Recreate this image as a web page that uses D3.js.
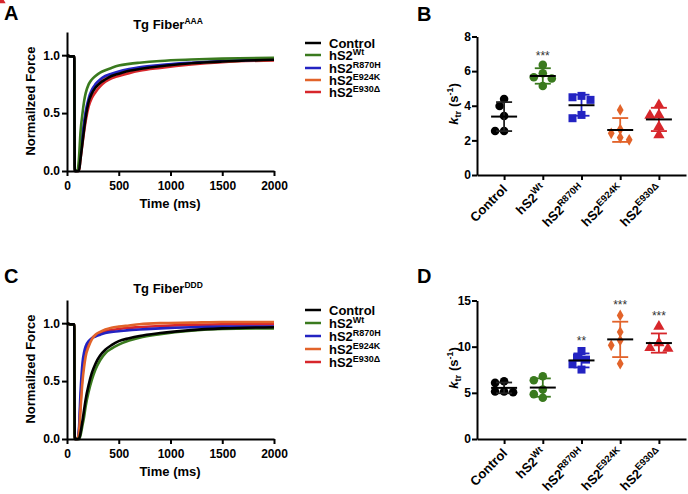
<!DOCTYPE html>
<html><head><meta charset="utf-8">
<script src="https://cdn.jsdelivr.net/npm/d3@7"></script>
<style>body{margin:0;background:#fff}svg{font-family:"Liberation Sans",Arial,sans-serif;font-weight:bold}</style>
</head><body><svg width="688" height="494"></svg>
<script>
// ---------- DATA ----------
const seriesNames = ["Control", "hS2Wt", "hS2R870H", "hS2E924K", "hS2E930Δ"];
const seriesBase = ["Control", "hS2", "hS2", "hS2", "hS2"];
const seriesSup = ["", "Wt", "R870H", "E924K", "E930Δ"];
const seriesColors = ["#000000", "#3a7a1e", "#2323c2", "#e2632a", "#d7262b"];

const timeMs = [0,30,70,75,100,115,130,150,165,180,210,240,275,320,370,430,500,600,700,900,1200,1500,2000];
const timeTicks = [0,500,1000,1500,2000];
const forceTicks = [0,0.5,1.0];

const A_control = [1.0,0.99,0.99,0.0,0.0, 0.0,0.10,0.25,0.36,0.46,0.60,0.67,0.72,0.76,0.79,0.82,0.84,0.865,0.88,0.905,0.93,0.945,0.96];
const A_wt      = [1.0,0.99,0.99,0.0,0.0, 0.10,0.33,0.50,0.60,0.67,0.75,0.79,0.82,0.85,0.87,0.89,0.91,0.925,0.935,0.95,0.962,0.97,0.978];
const A_r870h   = [1.0,0.99,0.99,0.0,0.0, 0.03,0.16,0.32,0.42,0.51,0.63,0.70,0.75,0.79,0.82,0.84,0.86,0.88,0.895,0.915,0.935,0.95,0.962];
const A_e924k   = [1.0,0.99,0.99,0.0,0.0, 0.02,0.14,0.30,0.40,0.49,0.61,0.68,0.73,0.775,0.805,0.83,0.85,0.87,0.885,0.91,0.93,0.945,0.96];
const A_e930d   = [1.0,0.99,0.99,0.0,0.0, 0.0,0.10,0.24,0.34,0.43,0.56,0.63,0.68,0.73,0.77,0.80,0.82,0.845,0.865,0.89,0.92,0.94,0.955];

const C_control = [1.0,0.99,0.99,0.0,0.0, 0.0,0.05,0.16,0.25,0.34,0.47,0.57,0.65,0.72,0.77,0.81,0.845,0.87,0.89,0.915,0.94,0.955,0.965];
const C_wt      = [1.0,0.99,0.99,0.0,0.0, 0.0,0.03,0.12,0.19,0.28,0.41,0.51,0.60,0.68,0.74,0.78,0.815,0.85,0.875,0.905,0.935,0.95,0.955];
const C_r870h   = [1.0,0.99,0.99,0.0,0.0, 0.08,0.39,0.66,0.75,0.80,0.845,0.87,0.885,0.90,0.915,0.925,0.93,0.94,0.945,0.955,0.965,0.97,0.97];
const C_e924k   = [1.0,0.99,0.99,0.0,0.0, 0.05,0.25,0.50,0.62,0.71,0.80,0.86,0.90,0.925,0.945,0.96,0.97,0.98,0.99,1.0,1.005,1.01,1.01];
const C_e930d   = [1.0,0.99,0.99,0.0,0.0, 0.06,0.30,0.56,0.68,0.76,0.83,0.87,0.895,0.915,0.93,0.94,0.95,0.96,0.965,0.975,0.985,0.99,0.99];

const B_control = [4.39,3.99,3.41,2.54,2.54];
const B_wt      = [6.36,5.88,5.57,5.65,5.14];
const B_r870h   = [4.49,4.34,4.57,3.47,3.28];
const B_e924k   = [3.76,2.64,2.41,2.16,2.03];
const B_e930d   = [4.05,3.43,3.47,2.79,2.31];
const B_stars   = ["","***","","",""];
const B_ticks   = [0,2,4,6,8];

const D_control = [6.26,6.08,5.14,5.07,5.14];
const D_wt      = [6.80,6.37,5.36,4.86,4.46];
const D_r870h   = [9.53,8.81,8.60,8.09,7.52];
const D_e924k   = [13.38,11.58,10.68,10.14,8.16];
const D_e930d   = [12.19,10.39,9.89,9.68,9.80];
const D_stars   = ["","","**","***","***"];
const D_ticks   = [0,5,10,15];

// ---------- DRAWING ----------
const svg = d3.select("svg");
const symbols = [d3.symbolCircle, d3.symbolCircle, d3.symbolSquare, d3.symbolDiamond, d3.symbolTriangle];
const symSizes = [58, 58, 64, 40, 55];

function styleAxis(g){
  g.select(".domain").attr("stroke","#000").attr("stroke-width",2);
  g.selectAll(".tick line").attr("stroke","#000").attr("stroke-width",2);
  g.selectAll(".tick text").attr("font-size",12).attr("font-weight","bold").attr("fill","#000")
   .attr("font-family",'"Liberation Sans",Arial,sans-serif');
}

function supText(parent, x, y, base, sup, size, supSize, anchor){
  const t = parent.append("text").attr("x",x).attr("y",y).attr("font-size",size).attr("text-anchor",anchor||"start");
  t.append("tspan").text(base);
  if (sup) t.append("tspan").attr("font-size",supSize).attr("dy",-size*0.4).text(sup);
  return t;
}

function tracePanel(o){
  const x = d3.scaleLinear([0,2000],[67,274]);
  const y = d3.scaleLinear([0,1.2],[o.y0, o.y0-139]);
  const line = d3.line().x((d,i)=>x(timeMs[i])).y(d=>y(d)).curve(d3.curveMonotoneX);
  o.order.forEach(k=>{
    svg.append("path").attr("d",line(o.series[k])).attr("fill","none")
      .attr("stroke",seriesColors[k]).attr("stroke-width",2.6).attr("stroke-linejoin","round");
  });
  const gx = svg.append("g").attr("transform",`translate(0,${o.y0})`)
    .call(d3.axisBottom(x).tickValues(timeTicks).tickFormat(d3.format("d")).tickSize(5).tickPadding(5).tickSizeOuter(0));
  styleAxis(gx);
  const gy = svg.append("g").attr("transform",`translate(67,0)`)
    .call(d3.axisLeft(y).tickValues(forceTicks).tickFormat(d3.format(".1f")).tickSize(5).tickPadding(2).tickSizeOuter(0));
  styleAxis(gy);
  svg.append("text").attr("x",170).attr("y",o.y0+37).attr("text-anchor","middle").attr("font-size",13).text("Time (ms)");
  svg.append("text").attr("transform",`translate(35,${o.y0-70}) rotate(-90)`).attr("text-anchor","middle")
    .attr("font-size",13).text("Normailzed Force");
  supText(svg, 168, o.titleY, "Tg Fiber", o.titleSup, 13, 8.5, "middle");
  svg.append("text").attr("x",4).attr("y",o.letterY).attr("font-size",20).text(o.letter);
  // legend
  o.legendY.forEach((ly,i)=>{
    svg.append("line").attr("x1",305).attr("x2",321).attr("y1",ly).attr("y2",ly)
      .attr("stroke",seriesColors[i]).attr("stroke-width",2.5);
    supText(svg, 329, ly+5, seriesBase[i], seriesSup[i], 13, 9, "start");
  });
}

function beeswarm(vals, y){
  const placed = [];
  const idx = vals.map((v,i)=>i).sort((a,b)=>vals[b]-vals[a]);
  const offs = [0,-4.5,4.5,-9,9,-13.5,13.5];
  const res = new Array(vals.length);
  idx.forEach(i=>{
    const py = y(vals[i]);
    for (const dx of offs){
      if (placed.every(p=>Math.hypot(p[0]-dx,p[1]-py)>=7.5)){ placed.push([dx,py]); res[i]=dx; break; }
    }
  });
  return res;
}

function scatterPanel(o){
  const x = d3.scalePoint().domain(seriesNames).range([477,686]).padding(0.7);
  const y = d3.scaleLinear([0,o.max],[o.y0, o.y0-138.5]);
  o.series.forEach((vals,k)=>{
    const cx = x(seriesNames[k]);
    const m = d3.mean(vals), sd = d3.deviation(vals);
    const col = seriesColors[k];
    const ecol = k===0 ? "#222" : col;
    const offs = beeswarm(vals, y);
    vals.forEach((v,i)=>{
      svg.append("path").attr("d",d3.symbol(symbols[k], symSizes[k])())
        .attr("transform",`translate(${cx+offs[i]},${y(v)})`).attr("fill",col);
    });
    svg.append("line").attr("x1",cx).attr("x2",cx).attr("y1",y(m+sd)).attr("y2",y(m-sd)).attr("stroke",ecol).attr("stroke-width",1.8);
    [m+sd,m-sd].forEach(v=>svg.append("line").attr("x1",cx-8).attr("x2",cx+8).attr("y1",y(v)).attr("y2",y(v)).attr("stroke",ecol).attr("stroke-width",1.8));
    svg.append("line").attr("x1",cx-13).attr("x2",cx+13).attr("y1",y(m)).attr("y2",y(m)).attr("stroke","#000").attr("stroke-width",2);
    if (o.stars[k]) svg.append("text").attr("x",cx).attr("y",y(d3.max(vals))-o.starGap).attr("text-anchor","middle")
      .attr("font-size",12).attr("font-weight","normal").attr("fill","#333").text(o.stars[k]);
  });
  const gx = svg.append("g").attr("transform",`translate(0,${o.y0})`)
    .call(d3.axisBottom(x).tickSize(5).tickSizeOuter(0));
  styleAxis(gx);
  gx.selectAll(".tick text").remove();
  seriesNames.forEach((n,k)=>{
    const cx = x(n);
    const t = supText(svg, 0, 0, seriesBase[k], seriesSup[k], 13, 9.5, "end");
    t.attr("transform",`translate(${cx+4},${o.y0+15}) rotate(-45)`);
  });
  const gy = svg.append("g").attr("transform",`translate(477,0)`)
    .call(d3.axisLeft(y).tickValues(o.ticks).tickSize(5).tickPadding(1).tickSizeOuter(0));
  styleAxis(gy);
  const yl = svg.append("text").attr("transform",`translate(458,${o.y0-71}) rotate(-90)`).attr("text-anchor","middle").attr("font-size",13);
  yl.append("tspan").attr("font-style","italic").text("k");
  yl.append("tspan").attr("font-size",9.5).attr("dy",3).text("tr");
  yl.append("tspan").attr("dy",-3).text(" (s");
  yl.append("tspan").attr("font-size",9).attr("dy",-5).text("-1");
  yl.append("tspan").attr("dy",5).text(")");
  svg.append("text").attr("x",417).attr("y",o.letterY).attr("font-size",20).text(o.letter);
}

tracePanel({y0:171, series:[A_control,A_wt,A_r870h,A_e924k,A_e930d], order:[4,3,2,1,0],
  titleY:29, titleSup:"AAA", letter:"A", letterY:20, legendY:[43,55,68,80,92]});
tracePanel({y0:439, series:[C_control,C_wt,C_r870h,C_e924k,C_e930d], order:[4,2,3,1,0],
  titleY:293, titleSup:"DDD", letter:"C", letterY:283, legendY:[310,323,336,349,362]});
scatterPanel({y0:175, max:8, series:[B_control,B_wt,B_r870h,B_e924k,B_e930d], stars:B_stars, ticks:B_ticks,
  letter:"B", letterY:21, starGap:5});
scatterPanel({y0:439, max:15, series:[D_control,D_wt,D_r870h,D_e924k,D_e930d], stars:D_stars, ticks:D_ticks,
  letter:"D", letterY:283, starGap:6});
</script></body></html>
